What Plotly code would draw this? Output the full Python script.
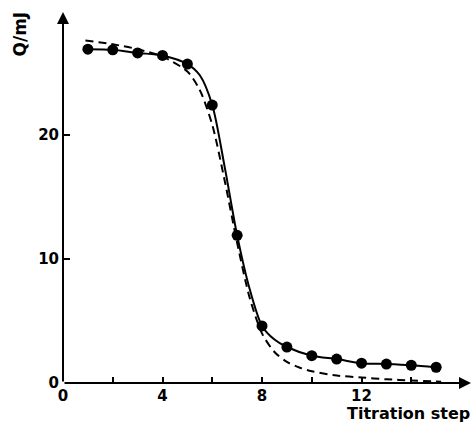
import plotly.graph_objects as go

# Measured points
step = [1, 2, 3, 4, 5, 6, 7, 8, 9, 10, 11, 12, 13, 14, 15]
heat = [26.9, 26.85, 26.6, 26.4, 25.7, 22.4, 11.9, 4.6, 2.9, 2.2, 1.93, 1.6, 1.53, 1.43, 1.27]

# Solid fitted curve
fit_x = [1, 2, 3, 4, 5, 5.5, 6, 6.5, 7, 7.5, 8, 8.5, 9, 10, 11, 12, 13, 14, 15]
fit_y = [26.9, 26.85, 26.6, 26.4, 25.7, 24.8, 22.4, 17.4, 11.9, 7.6, 4.6, 3.5, 2.9, 2.2, 1.93, 1.6, 1.53, 1.43, 1.27]

# Dashed curve
dash_x = [0.9, 2, 3, 4, 5, 5.5, 6, 6.5, 7, 7.5, 8, 8.5, 9, 9.5, 10, 11, 12, 13, 14, 15.2]
dash_y = [27.6, 27.3, 26.9, 26.3, 25.1, 23.6, 20.8, 16.3, 11.3, 6.9, 4.0, 2.5, 1.7, 1.25, 0.95, 0.6, 0.45, 0.3, 0.2, 0.1]

x_tickvals = [0, 2, 4, 6, 8, 10, 12, 14]
x_ticktext = ["0", "", "4", "", "8", "", "12", ""]
y_tickvals = [0, 10, 20]
y_ticktext = ["0", "10", "20"]

FONT = "DejaVu Sans, Liberation Sans, Arial, sans-serif"

fig = go.Figure()
fig.add_trace(go.Scatter(x=dash_x, y=dash_y, mode="lines",
                         line=dict(color="black", width=2, dash="8px,5px", shape="spline", smoothing=0.8),
                         hoverinfo="skip"))
fig.add_trace(go.Scatter(x=fit_x, y=fit_y, mode="lines",
                         line=dict(color="black", width=2, shape="spline", smoothing=0.8),
                         hoverinfo="skip"))
fig.add_trace(go.Scatter(x=step, y=heat, mode="markers",
                         marker=dict(color="black", size=11)))

# axis arrows
fig.add_annotation(x=16.4, y=0, ax=0, ay=0, xref="x", yref="y", axref="x", ayref="y",
                   showarrow=True, arrowhead=2, arrowsize=1.2, arrowwidth=2, arrowcolor="black", text="")
fig.add_annotation(x=0, y=29.9, ax=0, ay=0, xref="x", yref="y", axref="x", ayref="y",
                   showarrow=True, arrowhead=2, arrowsize=1.2, arrowwidth=2, arrowcolor="black", text="")

fig.add_annotation(x=1.0, y=0, xref="paper", yref="paper", xanchor="right", yanchor="top",
                   yshift=-19, xshift=1, showarrow=False, text="<b>Titration step</b>",
                   font=dict(family=FONT, size=16, color="black"))
fig.add_annotation(x=0, y=1, xref="paper", yref="paper", xanchor="center", yanchor="top",
                   xshift=-44, yshift=2, showarrow=False, text="<b>Q/mJ</b>", textangle=-90,
                   font=dict(family=FONT, size=17, color="black"))

fig.update_layout(
    width=473, height=422,
    margin=dict(l=63, r=2, t=12, b=39),
    plot_bgcolor="white", paper_bgcolor="white",
    showlegend=False,
    font=dict(family=FONT, size=15, color="black"),
    xaxis=dict(range=[0, 16.4], showgrid=False, zeroline=False, showline=False,
               tickvals=x_tickvals, ticktext=[f"<b>{t}</b>" if t else "" for t in x_ticktext],
               ticks="inside", ticklen=6, tickwidth=1.5, tickcolor="black",
               ticklabelstandoff=2),
    yaxis=dict(range=[0, 29.9], showgrid=False, zeroline=False, showline=False,
               tickvals=y_tickvals, ticktext=[f"<b>{t}</b>" for t in y_ticktext],
               ticks="inside", ticklen=7, tickwidth=1.5, tickcolor="black",
               ticklabelstandoff=3),
)

fig.write_html("out.html", config={"displayModeBar": False},
               post_script="document.body.style.margin='0';document.body.style.overflow='hidden';")
